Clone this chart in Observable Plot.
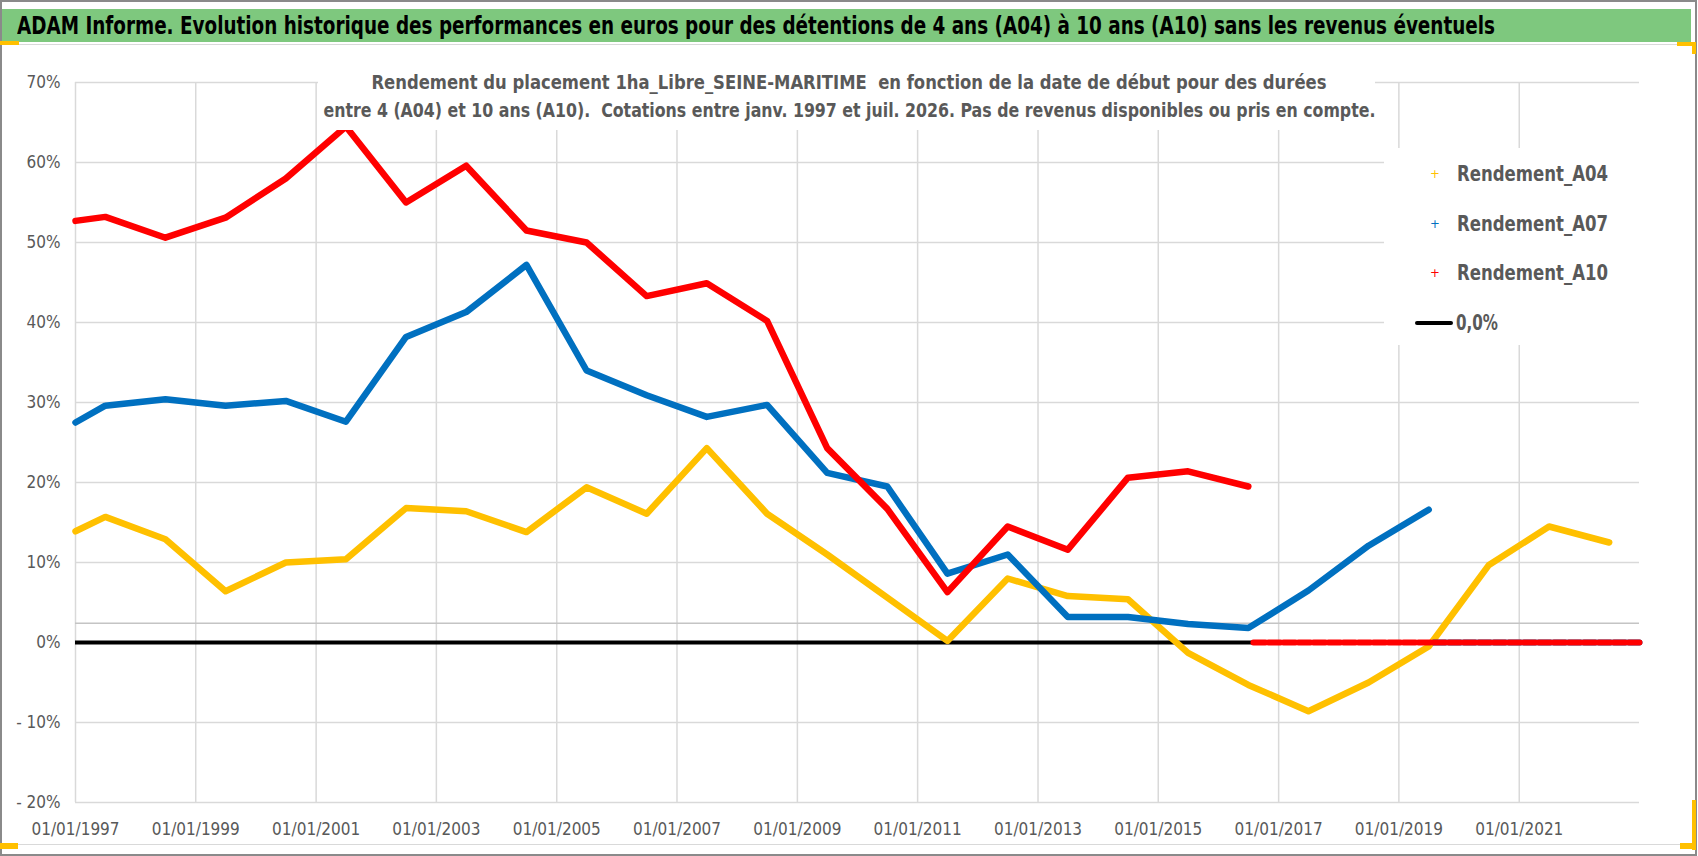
<!DOCTYPE html>
<html>
<head>
<meta charset="utf-8">
<script src="https://cdn.jsdelivr.net/npm/d3@7"></script>
<script src="https://cdn.jsdelivr.net/npm/@observablehq/plot@0.6"></script>
<style>
  html, body { margin: 0; padding: 0; background: #fff; }
  #frame { position: relative; width: 1698px; height: 856px; overflow: hidden; background: #fff; }
  .abs { position: absolute; }
  #outer { left: 0; top: 0; width: 1693px; height: 852px; border: 2px solid #8a8a8a; box-sizing: content-box; }
  #chartArea { left: 2px; top: 44px; width: 1688px; height: 799px; border-top: 1px solid #d9d9d9; border-bottom: 1px solid #d9d9d9; }
  #titleBar { left: 2px; top: 9px; width: 1689px; height: 33px; background: #7ec87e; }
  #title { left: 17px; top: 9px; height: 33px; line-height: 33px; font-weight: bold; font-size: 25px; color: #000; white-space: nowrap; transform-origin: 0 50%; }
  #plotHolder { left: 0; top: 44px; }
  #subBox { left: 318px; top: 60px; width: 1057px; height: 70px; background: #fff; }
  .sub { left: 0; width: 1698px; text-align: center; font-weight: bold; font-size: 19px; color: #595959; white-space: nowrap; }
  .sub span { display: inline-block; transform-origin: 50% 50%; }
  #legend { left: 1384px; top: 148px; width: 282px; height: 197px; background: #fff; }
  .lg { position: absolute; font-weight: bold; font-size: 22px; color: #595959; white-space: nowrap; transform-origin: 0 50%; }
  .mk { position: absolute; font-size: 13px; font-weight: normal; line-height: 13px; }
  .handle { position: absolute; background: #FFC000; }
</style>
</head>
<body>
<div id="frame">
  <div id="chartArea" class="abs"></div>
  <div id="plotHolder" class="abs"></div>
  <div id="subBox" class="abs"></div>
  <div id="sub1" class="abs sub" style="top:71px;"><span>Rendement du placement 1ha_Libre_SEINE-MARITIME&nbsp; en fonction de la date de début pour des durées</span></div>
  <div id="sub2" class="abs sub" style="top:99px;"><span>entre 4 (A04) et 10 ans (A10).&nbsp; Cotations entre janv. 1997 et juil. 2026. Pas de revenus disponibles ou pris en compte.</span></div>
  <div id="legend" class="abs"></div>
  <div id="titleBar" class="abs"></div>
  <div id="title" class="abs">ADAM Informe. Evolution historique des performances en euros pour des détentions de 4 ans (A04) à 10 ans (A10) sans les revenus éventuels</div>
  <div id="outer" class="abs"></div>
  <div class="handle" style="left:0;top:41px;width:19px;height:4px;"></div>
  <div class="handle" style="left:1677px;top:42px;width:19px;height:4px;"></div>
  <div class="handle" style="left:1692px;top:42px;width:4px;height:12px;"></div>
  <div class="handle" style="left:0;top:843px;width:18px;height:6px;"></div>
  <div class="handle" style="left:1692px;top:800px;width:4px;height:50px;"></div>
  <div class="handle" style="left:1680px;top:843px;width:16px;height:6px;"></div>
</div>
<script>
// ---------------- DATA ----------------
const startDates = [
  "1997-01-01","1997-07-01","1998-07-01","1999-07-01","2000-07-01","2001-07-01",
  "2002-07-01","2003-07-01","2004-07-01","2005-07-01","2006-07-01","2007-07-01",
  "2008-07-01","2009-07-01","2010-07-01","2011-07-01","2012-07-01","2013-07-01",
  "2014-07-01","2015-07-01","2016-07-01","2017-07-01","2018-07-01","2019-07-01",
  "2020-07-01","2021-07-01","2022-07-01"
];
// Rendement in %
const rendementA04 = [13.9,15.7,12.9,6.4,10.0,10.4,16.8,16.4,13.8,19.4,16.1,24.3,16.1,11.0,5.6,0.2,8.0,5.8,5.4,-1.3,-5.3,-8.6,-5.0,-0.5,9.7,14.5,12.5];
const rendementA07 = [27.5,29.6,30.4,29.6,30.2,27.6,38.2,41.3,47.2,34.0,30.9,28.2,29.7,21.2,19.5,8.6,11.0,3.2,3.2,2.3,1.8,6.5,12.1,16.6];
const rendementA10 = [52.7,53.2,50.6,53.1,58.0,64.5,55.0,59.6,51.5,50.0,43.3,44.9,40.2,24.3,16.7,6.3,14.5,11.6,20.6,21.4,19.5];
// periods without available result (plotted at 0)
const tailA07Dates = ["2019-08-01","2023-01-01"];
const tailA10Dates = ["2016-08-01","2023-01-01"];
const tailValues = [0, 0];
const zeroLine = [0];
const categoryAxisLine = [2.4];
const xTickLabels = ["01/01/1997","01/01/1999","01/01/2001","01/01/2003","01/01/2005","01/01/2007","01/01/2009","01/01/2011","01/01/2013","01/01/2015","01/01/2017","01/01/2019","01/01/2021"];
const xDomain = ["1997-01-01","2023-01-01"];
const yTicks = [-20,-10,0,10,20,30,40,50,60,70];
const seriesNames = ["Rendement_A04","Rendement_A07","Rendement_A10"];
const seriesColors = ["#FFC000","#0070C0","#FF0000"];
const zeroLabel = "0,0%";

// ---------------- FONT ----------------
function hasFont(name) {
  const c = document.createElement("canvas").getContext("2d");
  const s = "Rendement_A04 0123456789 mmmwwwiii";
  c.font = "20px monospace"; const w1 = c.measureText(s).width;
  c.font = `20px "${name}", monospace`; const w2 = c.measureText(s).width;
  return Math.abs(w1 - w2) > 0.5;
}
const FONT = ["Liberation Sans Narrow","DejaVu Sans Condensed","Roboto Condensed","Open Sans Condensed"].find(hasFont) || "Roboto";
document.getElementById("frame").style.fontFamily = `"${FONT}", "Liberation Sans", sans-serif`;

// ---------------- BUILD ----------------
const parse = d3.utcParse("%Y-%m-%d");
const parseLabel = d3.utcParse("%d/%m/%Y");
const mk = (vals) => vals.map((v, i) => ({date: parse(startDates[i]), v}));
const dA04 = mk(rendementA04), dA07 = mk(rendementA07), dA10 = mk(rendementA10);
const tA07 = tailA07Dates.map((d, i) => ({date: parse(d), v: tailValues[i]}));
const tA10 = tailA10Dates.map((d, i) => ({date: parse(d), v: tailValues[i]}));
const xTicks = xTickLabels.map(parseLabel);

const fmtY = v => v < 0 ? `- ${-v}%` : `${v}%`;

const chart = Plot.plot({
  width: 1698,
  height: 800,
  marginTop: 38,
  marginBottom: 42,
  marginLeft: 75,
  marginRight: 59,
  style: {fontFamily: `"${FONT}", sans-serif`, fontSize: "17px", color: "#595959", background: "transparent", overflow: "visible"},
  x: {type: "utc", domain: xDomain.map(parse)},
  y: {domain: [yTicks[0], yTicks[yTicks.length - 1]]},
  marks: [
    Plot.ruleY(yTicks, {stroke: "#d9d9d9", strokeWidth: 1.5}),
    Plot.ruleX(xTicks, {stroke: "#d9d9d9", strokeWidth: 1.5}),
    Plot.ruleY(categoryAxisLine, {stroke: "#c4c4c4", strokeWidth: 1.5}),
    Plot.ruleY(zeroLine, {stroke: "#000", strokeWidth: 4}),
    Plot.lineY(dA04, {x: "date", y: "v", stroke: seriesColors[0], strokeWidth: 6.5, strokeLinejoin: "round"}),
    Plot.lineY(tA07, {x: "date", y: "v", stroke: seriesColors[1], strokeWidth: 6, strokeDasharray: "12,3"}),
    Plot.lineY(dA07, {x: "date", y: "v", stroke: seriesColors[1], strokeWidth: 6.5, strokeLinejoin: "round"}),
    Plot.lineY(tA10, {x: "date", y: "v", stroke: seriesColors[2], strokeWidth: 6, strokeDasharray: "12,3"}),
    Plot.lineY(dA10, {x: "date", y: "v", stroke: seriesColors[2], strokeWidth: 6.5, strokeLinejoin: "round"}),
    Plot.axisX({ticks: xTicks, tickFormat: d3.utcFormat("%d/%m/%Y"), tickSize: 0, tickPadding: 20, label: null, fill: "#595959"}),
    Plot.axisY({ticks: yTicks, tickFormat: fmtY, tickSize: 0, tickPadding: 15, label: null, fill: "#595959"})
  ]
});
document.getElementById("plotHolder").appendChild(chart);

// ---------------- LEGEND ----------------
const legend = document.getElementById("legend");
const rowsY = [174, 224, 273, 323];
seriesNames.forEach((name, i) => {
  const m = document.createElement("div");
  m.className = "mk"; m.textContent = "+"; m.style.color = seriesColors[i];
  m.style.left = (1434 - 1384 - 4) + "px"; m.style.top = (rowsY[i] - 148 - 7) + "px";
  legend.appendChild(m);
  const t = document.createElement("div");
  t.className = "lg"; t.textContent = name;
  t.style.left = (1457 - 1384) + "px"; t.style.top = (rowsY[i] - 148 - 14) + "px"; t.style.lineHeight = "28px";
  legend.appendChild(t);
});
{
  const line = document.createElement("div");
  line.style.cssText = `position:absolute;left:${1415-1384}px;top:${rowsY[3]-148-2}px;width:38px;height:4px;background:#000;border-radius:2px;`;
  legend.appendChild(line);
  const t = document.createElement("div");
  t.className = "lg"; t.textContent = zeroLabel;
  t.style.left = (1456 - 1384) + "px"; t.style.top = (rowsY[3] - 148 - 14) + "px"; t.style.lineHeight = "28px";
  legend.appendChild(t);
}

// ---------------- FIT TEXT WIDTHS ----------------
function fitWidth(el, target) {
  const w = el.getBoundingClientRect().width;
  if (w > 0) el.style.transform = `scaleX(${target / w})`;
}
fitWidth(document.getElementById("title"), 1478);
fitWidth(document.querySelector("#sub1 span"), 955);
fitWidth(document.querySelector("#sub2 span"), 1052);
legend.querySelectorAll(".lg").forEach((el, i) => { if (i < 3) fitWidth(el, 151); else fitWidth(el, 42); });
</script>
</body>
</html>
